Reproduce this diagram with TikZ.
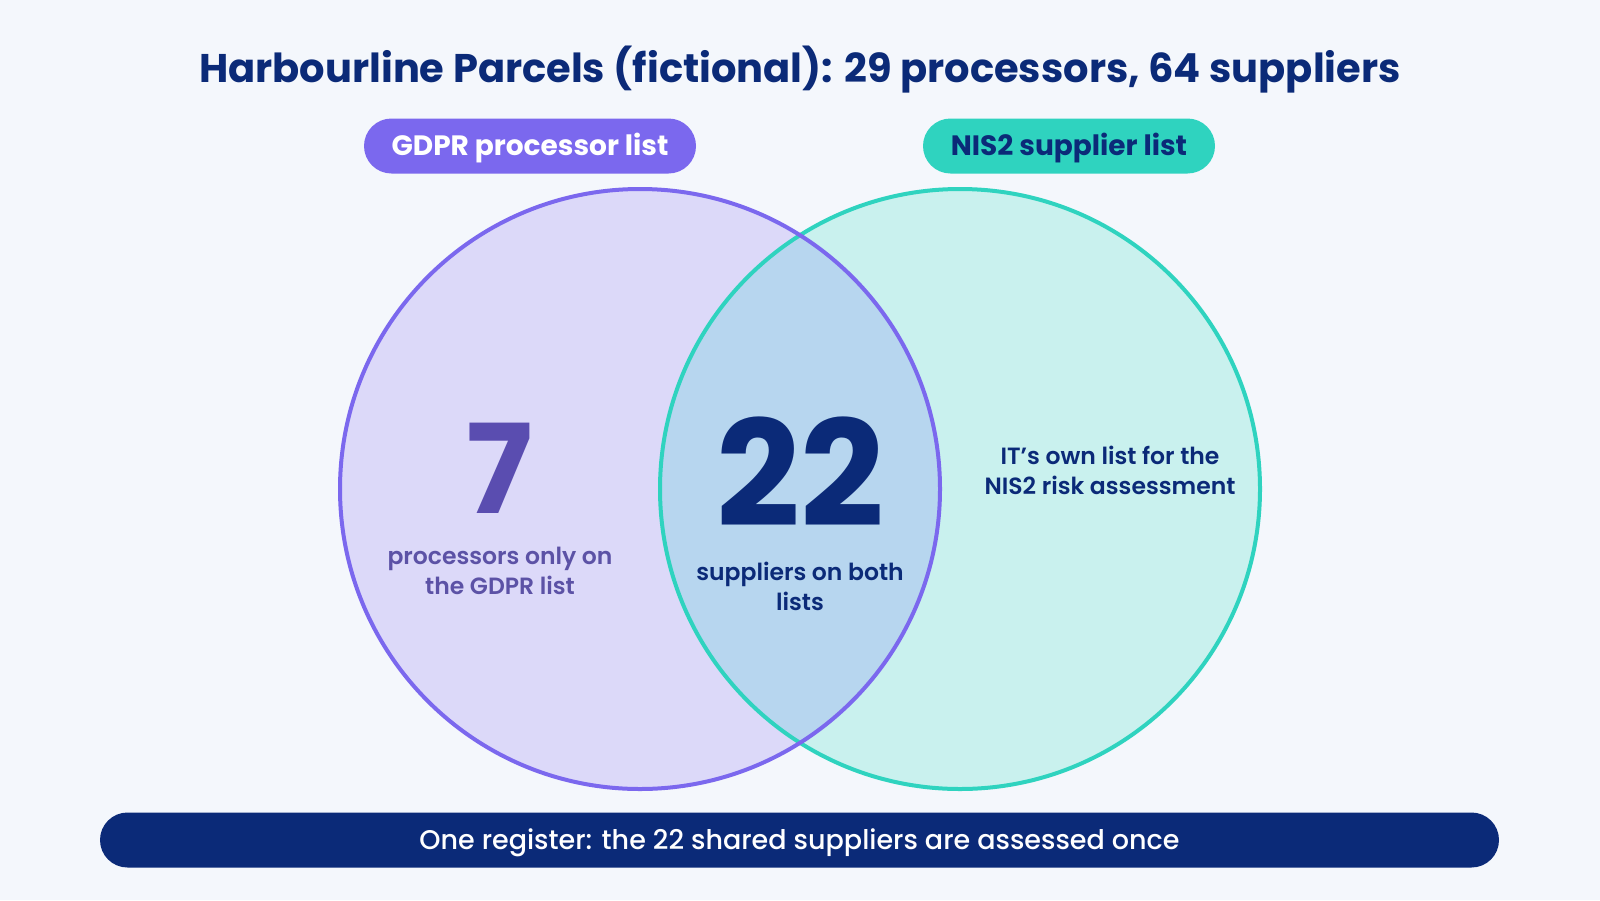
\documentclass[tikz,border=0pt]{standalone}
\usepackage{fontspec}
\setmainfont{Poppins}
\newfontfamily\pmed{Poppins Medium}
\newfontfamily\psemi{Poppins SemiBold}
\definecolor{bg}{HTML}{F4F7FC}
\definecolor{navy}{HTML}{0B2A78}
\definecolor{purp}{HTML}{7B68EE}
\definecolor{teal}{HTML}{2FD3BF}
\definecolor{lfill}{HTML}{DCD9F9}
\definecolor{rfill}{HTML}{C9F1EE}
\definecolor{ofill}{HTML}{B7D6EF}
\definecolor{sevencol}{HTML}{5A4DB0}
\definecolor{proccol}{HTML}{5C52A6}
\begin{document}
\begin{tikzpicture}[x=1pt,y=-1pt,
  pill/.style={rounded corners=27.5pt, minimum height=55pt, inner sep=0pt, text height=19.5pt, text depth=0pt, font=\bfseries\fontsize{28}{30}\selectfont},
  lbl/.style={align=center, inner sep=0pt, font=\psemi\fontsize{23.5}{30}\selectfont},
  bignum/.style={inner sep=0pt, text depth=0pt}]
\useasboundingbox[fill=bg] (0,0) rectangle (1600,900);
\node[text=navy, font=\bfseries\fontsize{40}{48}\selectfont] (title) at (800,70) {Harbourline Parcels (fictional): 29 processors, 64 suppliers};
\node[pill, fill=purp, text=white, minimum width=332pt] (gdpr) at (530,146) {GDPR processor list};
\node[pill, fill=teal, text=navy, minimum width=292pt] (nis) at (1069,146) {NIS2 supplier list};
\fill[lfill] (640,489) circle (300);
\fill[rfill] (960,489) circle (300);
\begin{scope}
\clip (640,489) circle (300);
\fill[ofill] (960,489) circle (300);
\end{scope}
\draw[teal, line width=4pt] (960,489) circle (300);
\draw[purp, line width=4pt] (640,489) circle (300);
\node[bignum, text height=90pt, text=sevencol, font=\bfseries\fontsize{124}{130}\selectfont] (seven) at (500,468) {7};
\node[lbl, text=proccol] (proc) at (500,571) {processors only on\\the GDPR list};
\node[bignum, text height=110pt, text=navy, font=\bfseries\fontsize{147}{150}\selectfont] (both) at (800,471.5) {22};
\node[lbl, text=navy] (bothtxt) at (800,586) {suppliers on both\\lists};
\node[lbl, text=navy] (own) at (1110,470) {IT’s own list for the\\NIS2 risk assessment};
\node[fill=navy, rounded corners=27.5pt, minimum width=1399pt, minimum height=55pt, inner sep=0pt, text height=19pt, text depth=0pt, text=white, font=\pmed\fontsize{27}{30}\selectfont] (bar) at (799.5,840) {One register: the 22 shared suppliers are assessed once};
\end{tikzpicture}
\end{document}
